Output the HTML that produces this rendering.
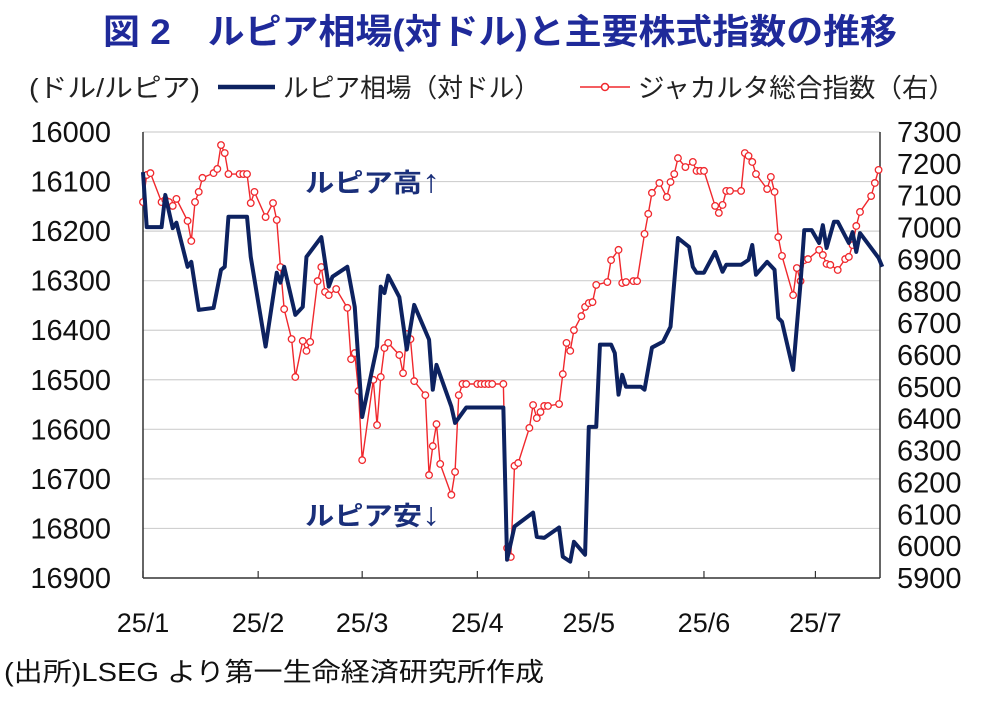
<!DOCTYPE html>
<html><head><meta charset="utf-8">
<style>
body{margin:0;background:#fff;width:1000px;height:698px;overflow:hidden;font-family:"Liberation Sans","Noto Sans CJK JP",sans-serif;}
svg text{font-family:"Liberation Sans","Noto Sans CJK JP",sans-serif;}
</style></head>
<body>
<svg id="chart" width="1000" height="698" xmlns="http://www.w3.org/2000/svg">
<text x="103" y="44" font-size="35" font-weight="bold" fill="#1f2a9a" textLength="794" lengthAdjust="spacingAndGlyphs">図 2　ルピア相場(対ドル)と主要株式指数の推移</text>
<text x="29" y="97" font-size="26" fill="#222" textLength="171" lengthAdjust="spacingAndGlyphs">(ドル/ルピア)</text>
<line x1="218" y1="87" x2="275" y2="87" stroke="#0d2260" stroke-width="4.5"/>
<text x="283" y="97" font-size="26" fill="#222" textLength="257" lengthAdjust="spacingAndGlyphs">ルピア相場（対ドル）</text>
<line x1="580" y1="87" x2="630" y2="87" stroke="#f0282d" stroke-width="1.5"/>
<circle cx="605" cy="87" r="3.5" fill="#fff" stroke="#f0282d" stroke-width="1.5"/>
<text x="638" y="97" font-size="26" fill="#222" textLength="317" lengthAdjust="spacingAndGlyphs">ジャカルタ総合指数（右）</text>
<g id="grid"></g><g id="axes"></g><g id="series"></g>
<text x="305" y="192" font-size="26" font-weight="bold" fill="#1a2f7a" textLength="135" lengthAdjust="spacingAndGlyphs">ルピア高<tspan font-size="32">↑</tspan></text>
<text x="305" y="525" font-size="26" font-weight="bold" fill="#1a2f7a" textLength="135" lengthAdjust="spacingAndGlyphs">ルピア安<tspan font-size="32">↓</tspan></text>
<text x="4" y="681" font-size="26" fill="#111" textLength="540" lengthAdjust="spacingAndGlyphs">(出所)LSEG より第一生命経済研究所作成</text>
</svg>
<script>
const monthLabels=["25/1","25/2","25/3","25/4","25/5","25/6","25/7"];
const monthDays=[0,31,59,90,120,151,181];
const leftTicks=[16000,16100,16200,16300,16400,16500,16600,16700,16800,16900];
const rightTicks=[7300,7200,7100,7000,6900,6800,6700,6600,6500,6400,6300,6200,6100,6000,5900];
const rupiahDays=[0,1,5,6,7,8,9,12,13,15,19,21,22,23,28,29,33,36,37,38,41,43,44,48,50,51,55,57,59,63,64,65,66,69,71,73,77,78,79,83,84,87,97,98,100,105,106,108,112,113,115,116,119,120,122,123,126,127,128,129,130,134,135,137,140,142,144,147,148,149,151,154,156,157,161,163,164,165,168,170,171,172,175,177,178,180,182,183,184,186,187,190,191,192,193,198,199];
const rupiahValues=[16081,16192,16192,16127,16161,16194,16183,16272,16262,16359,16355,16278,16272,16171,16171,16252,16433,16284,16304,16272,16369,16353,16252,16212,16312,16292,16272,16353,16575,16433,16312,16325,16290,16333,16439,16349,16419,16520,16470,16554,16587,16556,16556,16863,16796,16768,16817,16819,16798,16857,16867,16827,16853,16595,16595,16429,16429,16446,16530,16490,16514,16514,16520,16435,16423,16393,16214,16232,16272,16284,16284,16242,16282,16268,16268,16258,16228,16288,16262,16278,16375,16383,16480,16304,16198,16198,16224,16188,16234,16181,16181,16224,16202,16242,16204,16254,16272];
const jciDays=[0,1,2,5,6,7,8,9,12,13,14,15,16,19,20,21,22,23,26,27,28,29,30,33,35,36,37,38,40,41,43,44,45,47,48,49,50,52,55,56,57,58,59,62,63,64,65,66,69,70,71,72,73,76,77,78,79,80,83,84,85,86,87,90,91,92,93,94,97,98,99,100,101,104,105,106,107,108,109,112,113,114,115,116,118,119,120,121,122,125,126,128,129,130,132,133,135,136,137,139,141,142,143,144,146,148,149,150,151,154,155,156,157,158,161,162,163,164,165,168,169,170,171,172,175,176,177,178,179,182,183,184,185,187,189,190,191,192,193,196,197,198];
const jciValues=[7080,7165,7171,7080,7087,7080,7068,7090,7021,6958,7080,7112,7156,7171,7184,7259,7234,7168,7168,7168,7168,7077,7112,7033,7077,7024,6876,6744,6650,6531,6644,6613,6641,6832,6876,6798,6788,6807,6748,6587,6606,6487,6270,6522,6380,6531,6622,6638,6600,6543,6666,6650,6518,6474,6223,6314,6383,6258,6161,6233,6474,6509,6509,6509,6509,6509,6509,6509,6509,5994,5966,6252,6261,6371,6443,6402,6421,6440,6440,6446,6540,6638,6613,6678,6722,6751,6763,6766,6820,6829,6898,6930,6826,6829,6832,6832,6980,7043,7109,7140,7096,7143,7168,7218,7190,7206,7178,7178,7178,7068,7046,7071,7115,7115,7115,7234,7225,7206,7168,7121,7159,7112,6970,6911,6788,6873,6832,6898,6901,6930,6914,6886,6883,6867,6901,6908,6945,7005,7049,7099,7140,7181];

const NS="http://www.w3.org/2000/svg";
const X0=143,X1=880,Y0=132,Y1=578;
const xS=d=>X0+d*3.715;
const yL=v=>Y0+(v-16000)/900*(Y1-Y0);
const yR=v=>Y0+(7300-v)/1400*(Y1-Y0);
function mk(tag,attrs,parent){const e=document.createElementNS(NS,tag);for(const k in attrs)e.setAttribute(k,attrs[k]);parent.appendChild(e);return e;}
const grid=document.getElementById('grid'),axes=document.getElementById('axes'),series=document.getElementById('series');
leftTicks.forEach(t=>{
  const y=yL(t);
  if(t!==16900){const g=mk('line',{x1:X0,x2:X1,y1:y,y2:y,stroke:'#d0d0d0','stroke-width':1.2},grid);
  
  }
  const tx=mk('text',{x:111,y:y+10,'text-anchor':'end','font-size':29,fill:'#111'},axes);
  tx.textContent=t;
  
  
});
rightTicks.forEach(t=>{
  const tx=mk('text',{x:897,y:yR(t)+10,'font-size':29,fill:'#111'},axes);
  tx.textContent=t;
  
  
});
monthLabels.forEach((m,i)=>{
  const x=xS(monthDays[i]);
  const tk=mk('line',{x1:x,x2:x,y1:Y1-7,y2:Y1,stroke:'#333','stroke-width':1.2},axes);
  
  
  const tx=mk('text',{x:x,y:632,'text-anchor':'middle','font-size':27,fill:'#111'},axes);
  tx.textContent=m;
  
  
});
const la=mk('line',{x1:X0,x2:X0,y1:Y0,y2:Y1,stroke:'#333','stroke-width':1.5},axes);


const ra=mk('line',{x1:X1,x2:X1,y1:Y0,y2:Y1,stroke:'#333','stroke-width':1.5},axes);


const ba=mk('line',{x1:X0,x2:X1,y1:Y1,y2:Y1,stroke:'#333','stroke-width':1.5},axes);



const jp=mk('polyline',{points:jciDays.map((d,i)=>xS(d)+','+yR(jciValues[i])).join(' '),fill:'none',stroke:'#f0282d','stroke-width':1.4},series);


jciDays.forEach((d,i)=>{
  const c=mk('circle',{cx:xS(d),cy:yR(jciValues[i]),r:3.3,fill:'#fff',stroke:'#f0282d','stroke-width':1.3},series);
  
  
});
const rp=mk('polyline',{points:rupiahDays.map((d,i)=>xS(d)+','+yL(rupiahValues[i])).join(' '),fill:'none',stroke:'#0d2260','stroke-width':4,'stroke-linejoin':'round'},series);


</script>
</body></html>
